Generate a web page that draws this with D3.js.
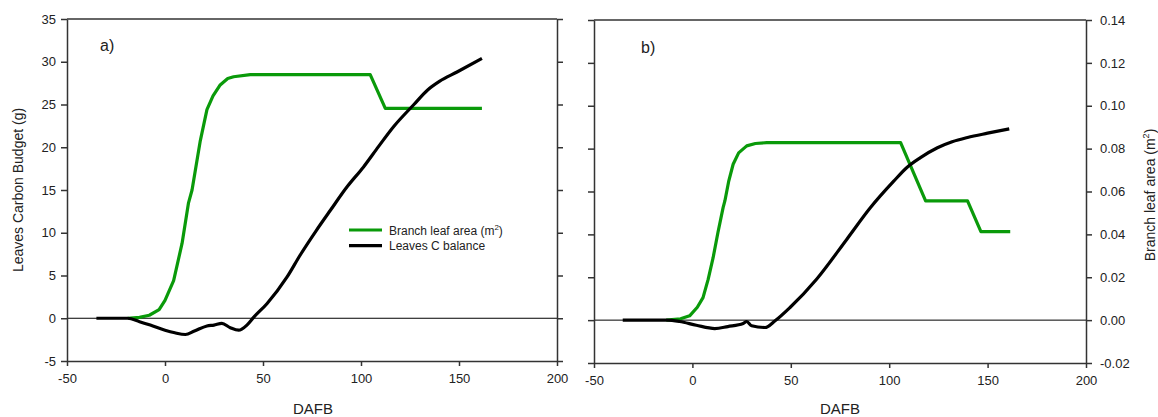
<!DOCTYPE html>
<html>
<head>
<meta charset="utf-8">
<script src="https://cdn.jsdelivr.net/npm/d3@7"></script>
<style>
  body { margin: 0; background: #fff; }
  text { font-family: "Liberation Sans", Arial, sans-serif; fill: #222; }
  .axis path, .axis line { stroke: #333; stroke-width: 1.5; }
  .axis text { font-size: 13px; fill: #222; }
</style>
</head>
<body>
<svg id="chart"></svg>
<script>
// tick values
const xTicks = [-50, 0, 50, 100, 150, 200];
const budgetTicks = [-5, 0, 5, 10, 15, 20, 25, 30, 35];
const areaTicks = [-0.02, 0, 0.02, 0.04, 0.06, 0.08, 0.10, 0.12, 0.14];

// panel a) - [DAFB, value]
const leafAreaA = [[-19, 0], [-13, 0.0004], [-8, 0.0014], [-3, 0.004], [0, 0.0084], [4.4, 0.0176],
  [8.7, 0.035], [12, 0.054], [13.8, 0.06], [18, 0.083], [21.4, 0.0976], [24.5, 0.104], [28, 0.109],
  [32, 0.1122], [35, 0.113], [43.5, 0.114], [104.7, 0.114], [112.4, 0.0982], [161.7, 0.0982]];
const carbonA = [[-35, 0], [-19, 0], [-13, -0.4], [-7.5, -0.8], [0, -1.4], [5, -1.7], [10.4, -1.9],
  [15, -1.5], [21.4, -0.9], [25, -0.8], [29, -0.6], [33.3, -1.1], [37.6, -1.4], [41.8, -0.8],
  [45.2, 0.1], [52, 1.7], [62.2, 4.8], [69, 7.4], [77, 10.2], [84.3, 12.6], [93, 15.4],
  [101.3, 17.7], [109, 20.1], [116.6, 22.4], [127, 25.0], [134, 26.7], [140, 27.7], [149, 28.8],
  [161.7, 30.4]];

// panel b)
const leafAreaB = [[-13.3, 0], [-6, 0.0006], [-1.4, 0.002], [2.5, 0.006], [5.4, 0.0105], [8, 0.019],
  [10.5, 0.029], [13, 0.041], [15.6, 0.0525], [16.5, 0.0556], [18.5, 0.065], [20.7, 0.0727],
  [23.5, 0.078], [27.6, 0.0813], [32, 0.0824], [37.8, 0.0828], [105.8, 0.0828], [118.5, 0.0556],
  [139.8, 0.0556], [146.6, 0.0413], [161.5, 0.0413]];
const carbonB = [[-35.4, 0], [-13, 0], [-6.5, -0.16], [2, -0.6], [11.4, -0.98], [18, -0.75],
  [25.8, -0.4], [27.6, -0.16], [30.1, -0.66], [36.9, -0.86], [42, -0.08], [49.6, 1.47],
  [63.2, 4.8], [78.5, 9.44], [90.4, 13.1], [102.3, 16.2], [109, 17.8], [115.9, 18.95],
  [124.5, 20.1], [132, 20.8], [139.8, 21.3], [150, 21.8], [161, 22.3]];

const legendItems = [
  { label: "Branch leaf area (m", sup: "2", color: "#0a9a0a" },
  { label: "Leaves C balance", color: "#000" }
];

const W = 1158, H = 417;
const svg = d3.select("#chart").attr("width", W).attr("height", H);

const green = "#0a9a0a";

// plain hyphen for negative labels, like the original
const locale = d3.formatLocale({ decimal: ".", thousands: ",", grouping: [3], currency: ["$", ""], minus: "-" });
const fmtInt = locale.format("d");
const fmt2 = locale.format(".2f");

const panels = [
  { name: "a)", left: 67, right: 557, top: 19, bottom: 361, area: leafAreaA, carbon: carbonA,
    leftLabels: true, rightLabels: false, labelX: 100, labelY: 51, dafbX: 313 },
  { name: "b)", left: 594, right: 1086, top: 20, bottom: 363, area: leafAreaB, carbon: carbonB,
    leftLabels: false, rightLabels: true, labelX: 641, labelY: 53, dafbX: 840 }
];

panels.forEach(p => {
  const x = d3.scaleLinear().domain([-50, 200]).range([p.left, p.right]);
  const yC = d3.scaleLinear().domain([-5, 35]).range([p.bottom, p.top]);
  const yA = d3.scaleLinear().domain([-0.02, 0.14]).range([p.bottom, p.top]);
  const g = svg.append("g");

  // zero line
  g.append("line")
    .attr("x1", p.left).attr("x2", p.right)
    .attr("y1", yC(0)).attr("y2", yC(0))
    .attr("stroke", "#000").attr("stroke-width", 1);

  // top frame
  g.append("line")
    .attr("x1", p.left).attr("x2", p.right)
    .attr("y1", p.top).attr("y2", p.top)
    .attr("stroke", "#333").attr("stroke-width", 1.5);

  g.append("g").attr("class", "axis")
    .attr("transform", `translate(0,${p.bottom})`)
    .call(d3.axisBottom(x).tickValues(xTicks).tickSize(5).tickPadding(8).tickSizeOuter(0)
      .tickFormat(fmtInt));

  g.append("g").attr("class", "axis")
    .attr("transform", `translate(${p.left},0)`)
    .call(d3.axisLeft(yC).tickValues(budgetTicks).tickSize(6).tickPadding(5).tickSizeOuter(0)
      .tickFormat(p.leftLabels ? fmtInt : ""));

  g.append("g").attr("class", "axis")
    .attr("transform", `translate(${p.right},0)`)
    .call(d3.axisRight(yA).tickValues(areaTicks).tickSize(6).tickPadding(8).tickSizeOuter(0)
      .tickFormat(p.rightLabels ? fmt2 : ""));

  const lineA = d3.line().x(d => x(d[0])).y(d => yA(d[1]));
  const lineC = d3.line().x(d => x(d[0])).y(d => yC(d[1])).curve(d3.curveMonotoneX);

  g.append("path").datum(p.area)
    .attr("d", lineA).attr("fill", "none")
    .attr("stroke", green).attr("stroke-width", 3.2).attr("stroke-linejoin", "round");

  g.append("path").datum(p.carbon)
    .attr("d", lineC).attr("fill", "none")
    .attr("stroke", "#000").attr("stroke-width", 3.2).attr("stroke-linejoin", "round");

  g.append("text").attr("x", p.labelX).attr("y", p.labelY)
    .style("font-size", "16px").text(p.name);

  g.append("text").attr("x", p.dafbX).attr("y", 414)
    .attr("text-anchor", "middle").style("font-size", "15px").text("DAFB");
});

// y labels
svg.append("text")
  .attr("transform", "translate(23,190) rotate(-90)")
  .attr("text-anchor", "middle").style("font-size", "14px")
  .text("Leaves Carbon Budget (g)");

const rl = svg.append("text")
  .attr("transform", "translate(1155,195) rotate(-90)")
  .attr("text-anchor", "middle").style("font-size", "14px");
rl.append("tspan").text("Branch leaf area (m");
rl.append("tspan").attr("dy", -6).style("font-size", "9px").text("2");
rl.append("tspan").attr("dy", 6).text(")");

// legend
const leg = svg.append("g").attr("transform", "translate(349,230)");
legendItems.forEach((d, i) => {
  const row = leg.append("g").attr("transform", `translate(0,${i * 15.7})`);
  row.append("line").attr("x1", 0).attr("x2", 33).attr("y1", 0).attr("y2", 0)
    .attr("stroke", d.color).attr("stroke-width", 3.2);
  const t = row.append("text").attr("x", 40).attr("y", 4.5).style("font-size", "12px");
  t.append("tspan").text(d.label);
  if (d.sup) {
    t.append("tspan").attr("dy", -5).style("font-size", "8px").text(d.sup);
    t.append("tspan").attr("dy", 5).text(")");
  }
});
</script>
</body>
</html>
